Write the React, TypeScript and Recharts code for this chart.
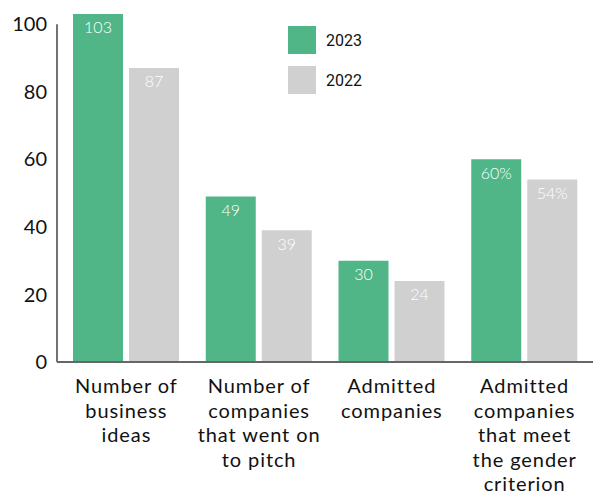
import React from "react";
import {
  Bar,
  BarChart,
  LabelList,
  ReferenceLine,
  XAxis,
  YAxis,
} from "recharts";

const categories = [
  "Number of|business|ideas",
  "Number of|companies|that went on|to pitch",
  "Admitted|companies",
  "Admitted|companies|that meet|the gender|criterion",
];
const values2023 = [103, 49, 30, 60];
const values2022 = [87, 39, 24, 54];
const labels2023 = ["103", "49", "30", "60%"];
const labels2022 = ["87", "39", "24", "54%"];
const yTicks = [0, 20, 40, 60, 80, 100];
const seriesNames = ["2023", "2022"];

const GREEN = "#50b687";
const GREY = "#d0d0d0";
const FONT = "Lato, 'Open Sans', sans-serif";

const data = categories.map((c, i) => ({
  cat: c,
  y2023: values2023[i],
  y2022: values2022[i],
  l2023: labels2023[i],
  l2022: labels2022[i],
}));

function CategoryTick(props: any) {
  const { x, y, payload } = props;
  const lines = String(payload.value).split("|");
  return (
    <text
      x={x}
      y={y}
      textAnchor="middle"
      fontFamily={FONT}
      fontSize={20}
      letterSpacing={0.9}
      fill="#111"
    >
      {lines.map((ln, i) => (
        <tspan key={i} x={x} dy={i === 0 ? 23 : 24.5}>
          {ln}
        </tspan>
      ))}
    </text>
  );
}

function LegendBox() {
  const colors = [GREEN, GREY];
  return (
    <div style={{ position: "absolute", left: 288, top: 26 }}>
      {seriesNames.map((name, i) => (
        <div
          key={name}
          style={{ display: "flex", alignItems: "center", height: 28, marginBottom: 12 }}
        >
          <span style={{ width: 28, height: 28, background: colors[i], display: "inline-block" }} />
          <span
            style={{
              marginLeft: 10,
              fontFamily: "Roboto, sans-serif",
              fontSize: 16,
              color: "#111",
            }}
          >
            {name}
          </span>
        </div>
      ))}
    </div>
  );
}

export default function App() {
  return (
    <div style={{ position: "absolute", left: 0, top: 0, width: 593, height: 492 }}>
      <BarChart
        width={593}
        height={492}
        data={data}
        margin={{ top: 14, right: 0, bottom: 0, left: 0 }}
        barSize={50}
        barGap={6}
      >
        <XAxis
          dataKey="cat"
          interval={0}
          height={130}
          padding={{ left: 3, right: 2 }}
          tickLine={false}
          axisLine={{ stroke: "#666", strokeWidth: 2 }}
          tick={<CategoryTick />}
        />
        <XAxis xAxisId="frame" dataKey="cat" hide />
        <YAxis
          domain={[0, 103]}
          ticks={yTicks}
          width={57}
          axisLine={false}
          tickLine={false}
          tickSize={8}
          tickMargin={2}
          tick={{ fontSize: 20, fill: "#111", fontFamily: FONT }}
        />
        <ReferenceLine
          xAxisId="frame"
          position="start"
          segment={[
            { x: categories[0], y: 0 },
            { x: categories[0], y: 100 },
          ]}
          stroke="#444"
          strokeWidth={1.5}
          ifOverflow="visible"
        />
        <Bar dataKey="y2023" name={seriesNames[0]} fill={GREEN} isAnimationActive={false}>
          <LabelList
            dataKey="l2023"
            position="insideTop"
            offset={8}
            fill="#fff"
            fontSize={16}
            fontWeight={300}
            fontFamily={FONT}
          />
        </Bar>
        <Bar dataKey="y2022" name={seriesNames[1]} fill={GREY} isAnimationActive={false}>
          <LabelList
            dataKey="l2022"
            position="insideTop"
            offset={8}
            fill="#fff"
            fontSize={16}
            fontWeight={300}
            fontFamily={FONT}
          />
        </Bar>
      </BarChart>
      <LegendBox />
    </div>
  );
}
